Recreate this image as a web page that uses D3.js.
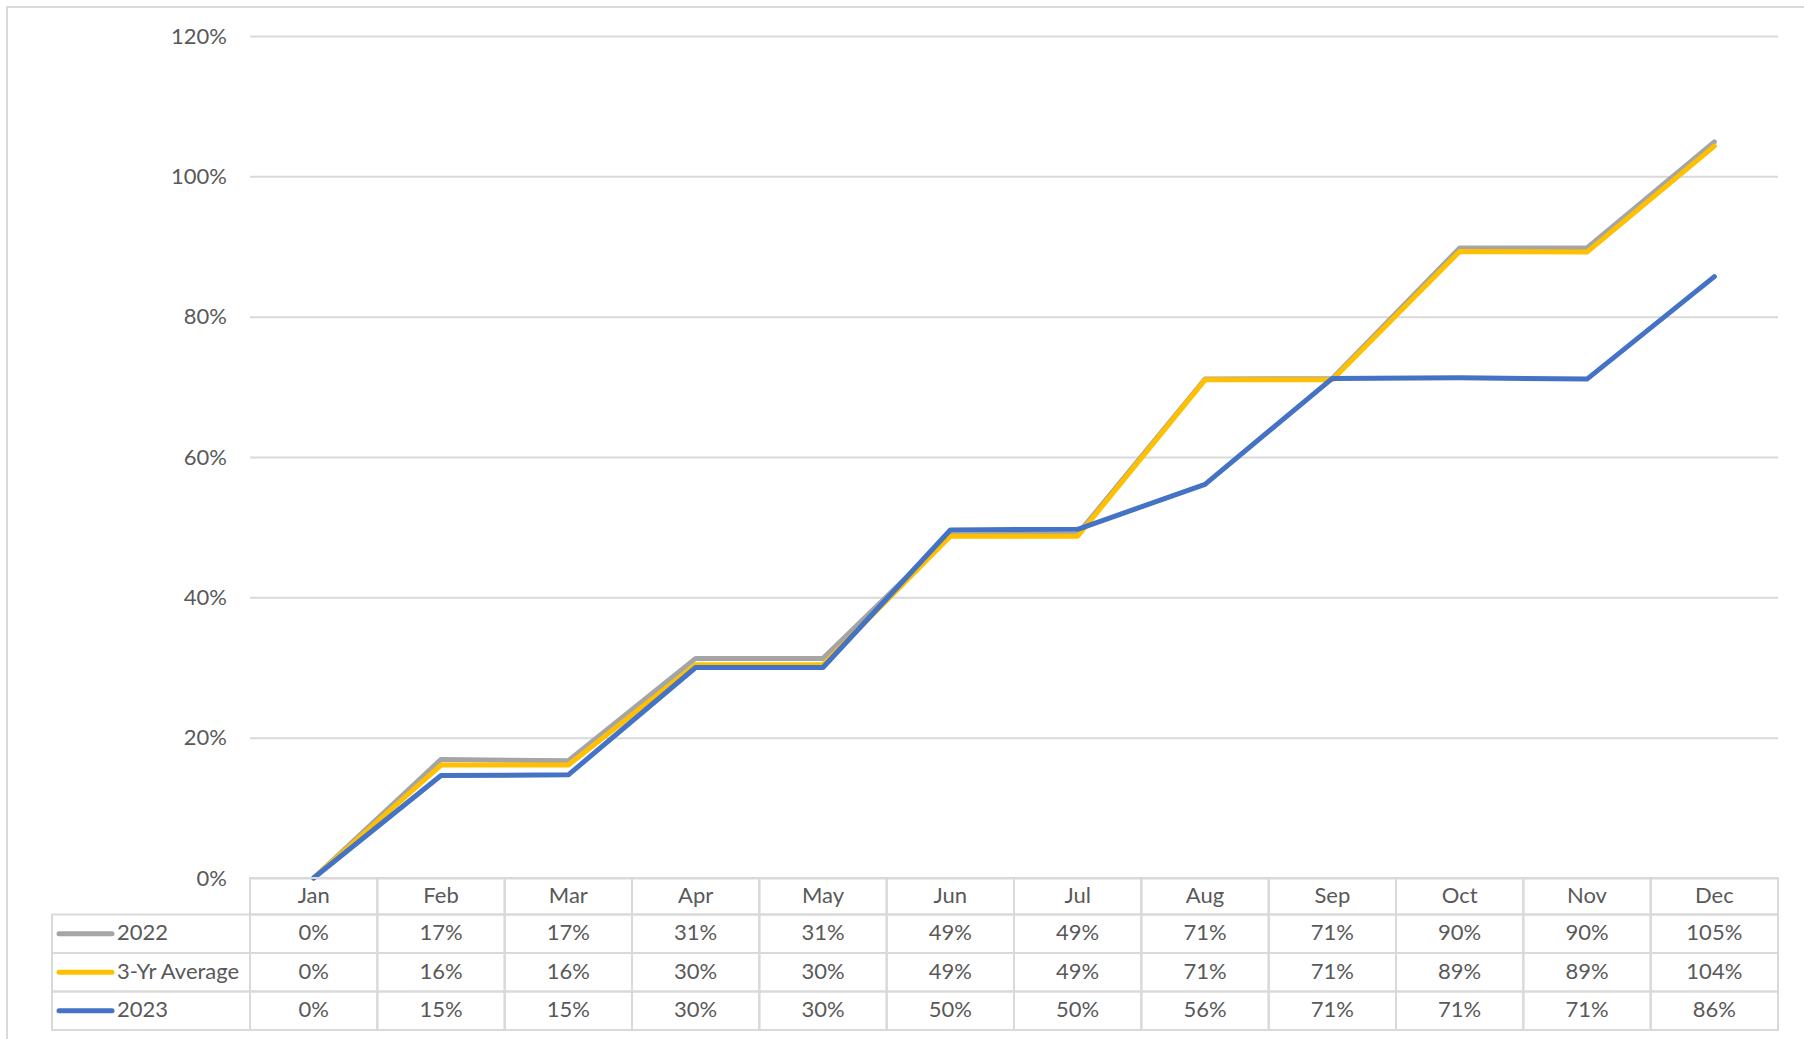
<!DOCTYPE html>
<html>
<head>
<meta charset="utf-8">
<script src="https://cdn.jsdelivr.net/npm/d3@7"></script>
<style>
  html, body { margin: 0; padding: 0; background: #fff; }
  svg { display: block; }
  text { font-family: Lato, "Open Sans", sans-serif; fill: #595959; }
</style>
</head>
<body>
<svg id="chart" width="1804" height="1039"></svg>
<script>
// Cumulative share by month
const months = ["Jan", "Feb", "Mar", "Apr", "May", "Jun", "Jul", "Aug", "Sep", "Oct", "Nov", "Dec"];
const seriesNames = ["2022", "3-Yr Average", "2023"];
const values2022 = [0, 0.169, 0.167, 0.313, 0.313, 0.489, 0.490, 0.711, 0.712, 0.898, 0.898, 1.049];
const valuesAvg = [0, 0.161, 0.161, 0.304, 0.304, 0.487, 0.487, 0.710, 0.710, 0.893, 0.892, 1.043];
const values2023 = [0, 0.146, 0.147, 0.300, 0.300, 0.496, 0.497, 0.561, 0.712, 0.713, 0.711, 0.857];
const yTicks = [0, 0.2, 0.4, 0.6, 0.8, 1.0, 1.2];

const colors = ["#A5A5A5", "#FFC000", "#4472C4"];
const series = [values2022, valuesAvg, values2023].map((vals, i) => ({
  name: seriesNames[i], values: vals, color: colors[i]
}));

const svg = d3.select("#chart");
const gridColor = "#D9D9D9";
const fontSize = 22;

// Plot geometry
const plotLeft = 250, plotRight = 1778, plotTop = 36, plotBase = 878;
const x = d3.scaleBand().domain(months).range([plotLeft, plotRight]);
const y = d3.scaleLinear().domain([0, 1.2]).range([plotBase, plotTop]);
const fmt = d3.format(".0%");

// Outer chart frame (left and top edges visible)
svg.append("rect")
  .attr("x", 7).attr("y", 7).attr("width", 1820).attr("height", 1100)
  .attr("fill", "none").attr("stroke", gridColor).attr("stroke-width", 2);

// Gridlines and y-axis labels
const yAxis = d3.axisLeft(y).tickValues(yTicks).tickFormat(fmt)
  .tickSize(-(plotRight - plotLeft)).tickPadding(23);
const gy = svg.append("g").attr("transform", `translate(${plotLeft},0)`).call(yAxis);
gy.select(".domain").remove();
gy.selectAll(".tick line").attr("stroke", gridColor).attr("stroke-width", 2);
gy.selectAll(".tick text")
  .attr("font-size", fontSize).attr("fill", "#595959")
  .style("font-family", "Lato, 'Open Sans', sans-serif");

// Lines
const line = d3.line()
  .x((d, i) => x(months[i]) + x.bandwidth() / 2)
  .y(d => y(d));

svg.append("g").selectAll("path").data(series).join("path")
  .attr("d", d => line(d.values))
  .attr("fill", "none")
  .attr("stroke", d => d.color)
  .attr("stroke-width", 5)
  .attr("stroke-linejoin", "round")
  .attr("stroke-linecap", "round");

// Data table below the plot
const headerTop = plotBase, headerH = 36.5, rowH = 38.5;
const legendLeft = 52;
const table = svg.append("g");
const textShift = -2;

// Header cells (months)
months.forEach(m => {
  table.append("rect")
    .attr("x", x(m)).attr("y", headerTop)
    .attr("width", x.bandwidth()).attr("height", headerH)
    .attr("fill", "none").attr("stroke", gridColor).attr("stroke-width", 2);
  table.append("text")
    .attr("x", x(m) + x.bandwidth() / 2).attr("y", headerTop + headerH / 2 + textShift)
    .attr("text-anchor", "middle").attr("dominant-baseline", "central")
    .attr("font-size", fontSize).text(m);
});

// Series rows
series.forEach((s, r) => {
  const ry = headerTop + headerH + r * rowH;
  table.append("rect")
    .attr("x", legendLeft).attr("y", ry)
    .attr("width", plotLeft - legendLeft).attr("height", rowH)
    .attr("fill", "none").attr("stroke", gridColor).attr("stroke-width", 2);
  table.append("line")
    .attr("x1", legendLeft + 7).attr("x2", legendLeft + 60)
    .attr("y1", ry + rowH / 2).attr("y2", ry + rowH / 2)
    .attr("stroke", s.color).attr("stroke-width", 5).attr("stroke-linecap", "round");
  table.append("text")
    .attr("x", legendLeft + 65).attr("y", ry + rowH / 2 + textShift)
    .attr("dominant-baseline", "central")
    .attr("font-size", fontSize).text(s.name);
  s.values.forEach((v, i) => {
    const m = months[i];
    table.append("rect")
      .attr("x", x(m)).attr("y", ry)
      .attr("width", x.bandwidth()).attr("height", rowH)
      .attr("fill", "none").attr("stroke", gridColor).attr("stroke-width", 2);
    table.append("text")
      .attr("x", x(m) + x.bandwidth() / 2).attr("y", ry + rowH / 2 + textShift)
      .attr("text-anchor", "middle").attr("dominant-baseline", "central")
      .attr("font-size", fontSize).text(fmt(v));
  });
});
</script>
</body>
</html>
